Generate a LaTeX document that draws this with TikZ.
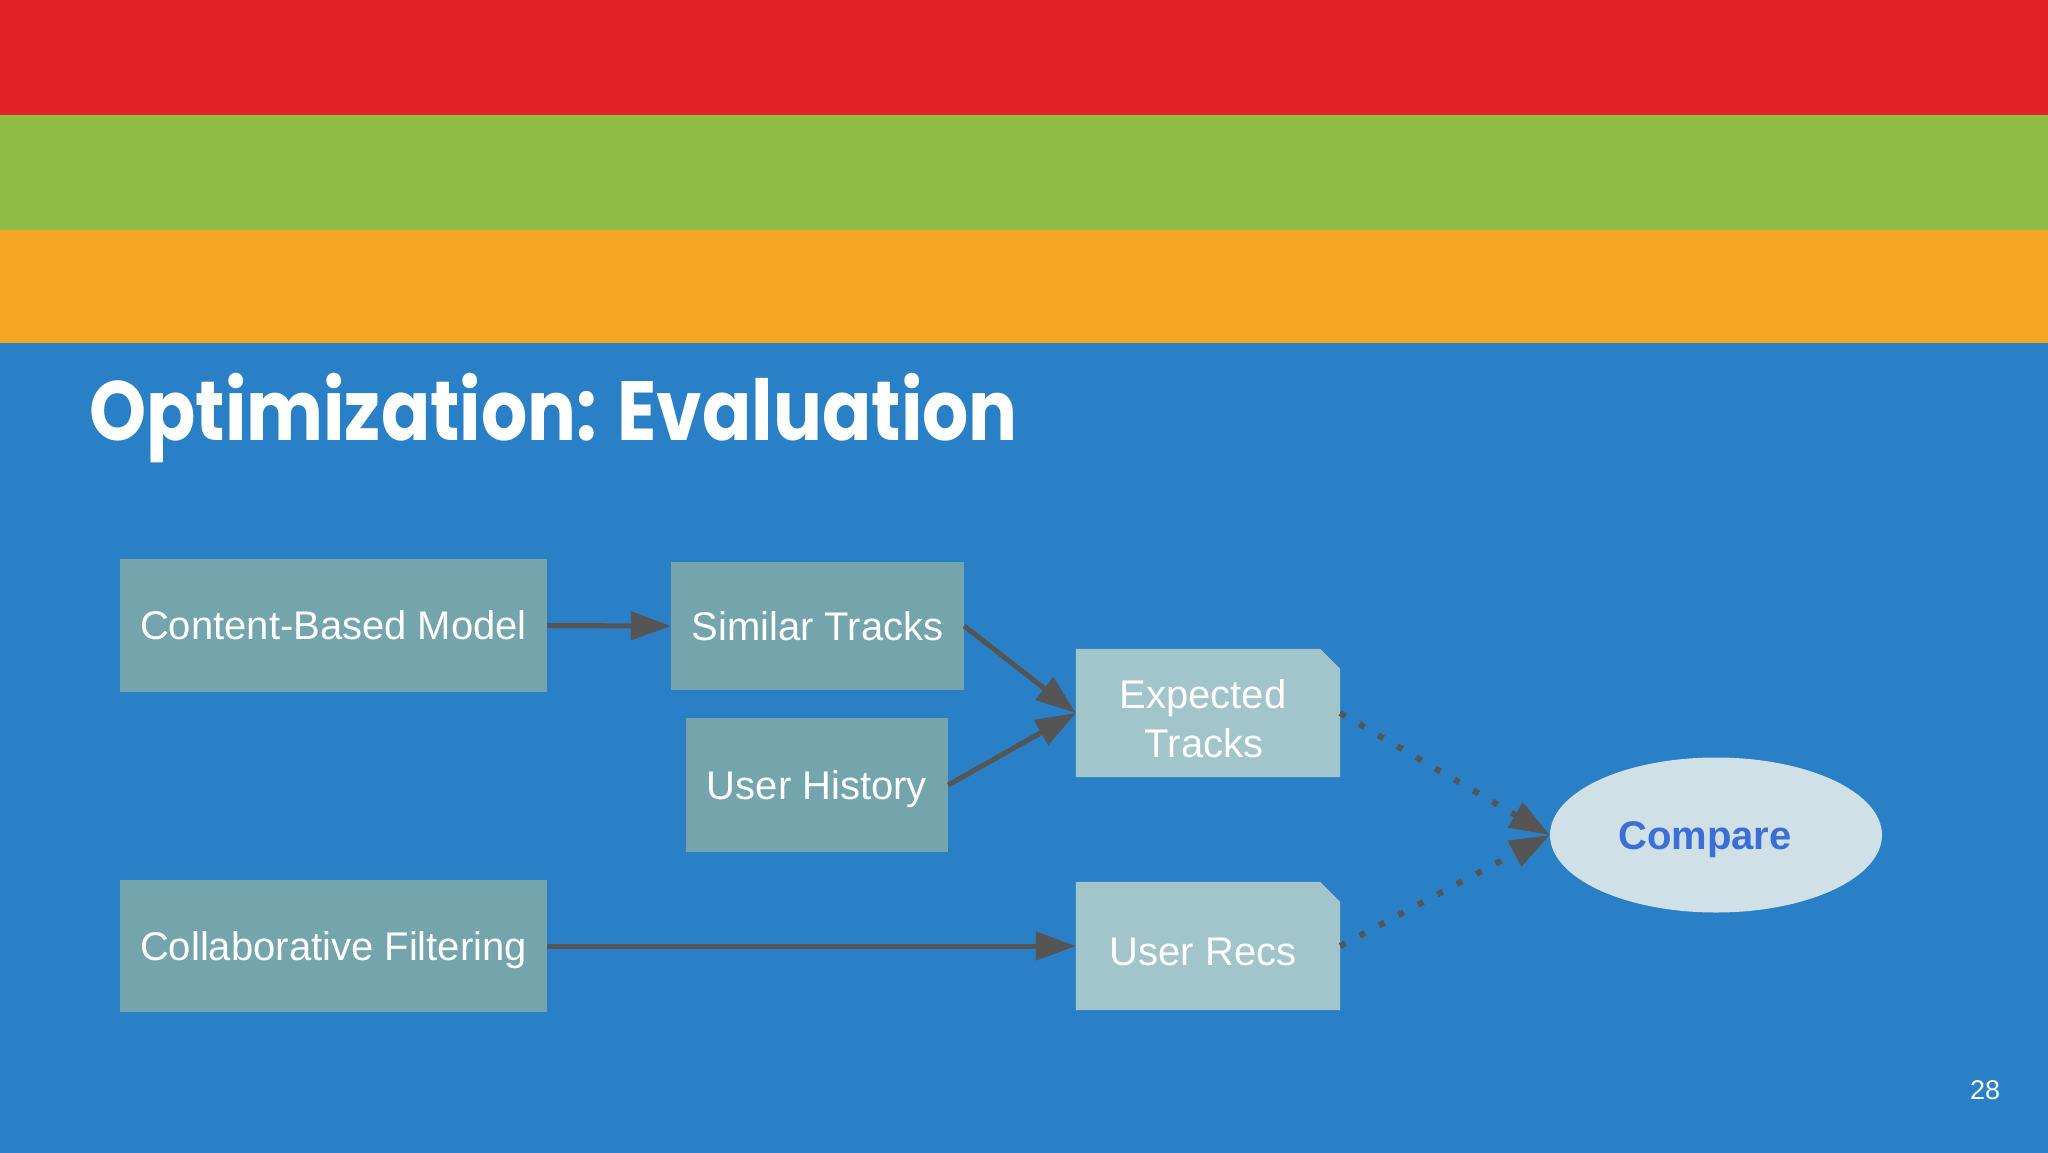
\documentclass[tikz,border=0pt]{standalone}
\usepackage{fontspec}
\setmainfont{Liberation Sans}
\newfontfamily\titlefont{Poppins}
\usetikzlibrary{shapes.geometric,arrows.meta}
\definecolor{bandred}{HTML}{E32228}
\definecolor{bandgreen}{HTML}{8FBE46}
\definecolor{bandorange}{HTML}{F5A623}
\definecolor{bgblue}{HTML}{2A80C6}
\definecolor{boxdark}{HTML}{74A5AC}
\definecolor{boxlight}{HTML}{A2C5CB}
\definecolor{ellfill}{HTML}{CFE1E6}
\definecolor{cmpblue}{HTML}{3C6FD6}
\definecolor{arrowgrey}{HTML}{555555}
\begin{document}
\begin{tikzpicture}[x=1pt,y=-1pt,
  box/.style={rectangle, fill=boxdark, inner sep=0pt, text=white,
    font=\fontsize{40}{46}\selectfont, align=center, text height=28.6pt, text depth=0pt},
  cutbox/.style={rectangle, inner sep=0pt, minimum width=264pt, minimum height=128pt},
  cutfill/.style={fill=boxlight},
  boxtext/.style={inner sep=0pt, text=white, font=\fontsize{40}{46}\selectfont, anchor=base},
  arr/.style={draw=arrowgrey, line width=5pt, -{Triangle[length=40pt,width=28pt]}},
  dotarr/.style={draw=arrowgrey, line width=6pt, dash pattern=on 6pt off 16pt,
    -{Triangle[length=40pt,width=28pt]}}
]
\useasboundingbox (0,0) rectangle (2048,1152);
\fill[bandred] (-5,-5) rectangle (2053,116);
\fill[bandgreen] (-5,115) rectangle (2053,231);
\fill[bandorange] (-5,230) rectangle (2053,344);
\fill[bgblue] (-5,343) rectangle (2053,1160);

\node[anchor=base west, text=white, inner sep=0pt,
  font=\titlefont\bfseries\fontsize{84}{90}\selectfont] (title) at (89,440)
  {\scalebox{0.865}[1]{Optimization: Evaluation}};

\node[box, minimum width=427pt, minimum height=133pt] (cbm) at (333.5,625.5) {Content-Based Model};
\node[box, minimum width=293pt, minimum height=128pt] (sim) at (817.5,626) {Similar Tracks};
\node[box, minimum width=262pt, minimum height=134pt] (hist) at (817,785) {User History};
\node[box, minimum width=427pt, minimum height=132pt] (cf) at (333.5,946) {Collaborative Filtering};

\node[cutbox] (exp) at (1208,713) {};
\fill[cutfill] (exp.south west) -- (exp.north west) -- ([xshift=-20pt]exp.north east)
  -- ([yshift=-20pt]exp.north east) -- (exp.south east) -- cycle;
\node[boxtext] (exp1) at (1203,708) {Expected};
\node[boxtext] (exp2) at (1204,757) {Tracks};

\node[cutbox] (recs) at (1208,946) {};
\fill[cutfill] (recs.south west) -- (recs.north west) -- ([xshift=-20pt]recs.north east)
  -- ([yshift=-20pt]recs.north east) -- (recs.south east) -- cycle;
\node[boxtext] (recstext) at (1203,965) {User Recs};

\node[ellipse, fill=ellfill, minimum width=332pt, minimum height=155pt, inner sep=0pt] (cmp) at (1716,835) {};
\node[inner sep=0pt, text=cmpblue, font=\bfseries\fontsize{40}{46}\selectfont, anchor=base] (cmptext) at (1705,849) {Compare};

\node[anchor=base, text=white, inner sep=0pt, font=\fontsize{27}{30}\selectfont] (page) at (1985,1099) {28};

\draw[arr] (cbm.east) -- (sim.west);
\draw[arr] (sim.east) -- (exp.west);
\draw[arr] (hist.east) -- (exp.west);
\draw[arr] (cf.east) -- (recs.west);
\draw[dotarr] (exp.east) -- (cmp.west);
\draw[dotarr] (recs.east) -- (cmp.west);
\end{tikzpicture}
\end{document}
